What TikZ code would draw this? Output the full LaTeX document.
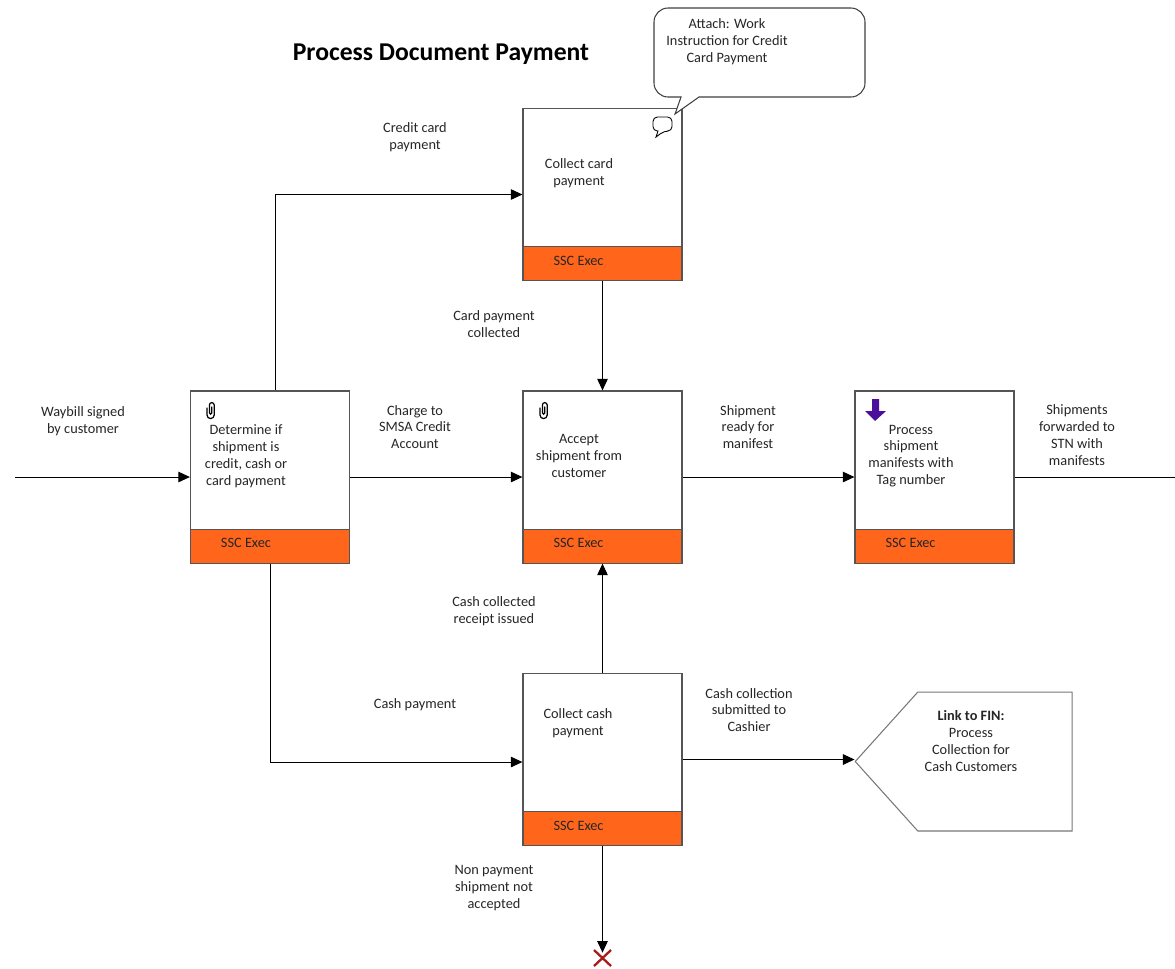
\documentclass[tikz,border=0pt]{standalone}
\usepackage{fontspec}
\setmainfont{Carlito}
\usepackage{xcolor}
\usetikzlibrary{arrows.meta,shapes.symbols}
\definecolor{execorange}{HTML}{FF661C}
\definecolor{linkgray}{HTML}{555555}
\definecolor{markpurple}{HTML}{4B0F9C}
\definecolor{stopred}{HTML}{A51C1C}
\tikzset{
    taskbox/.style={draw=linkgray,line width=0.7pt,minimum width=3.18cm,minimum height=3.44cm,inner sep=0pt},
    execband/.style={draw=linkgray,line width=0.6pt,fill=execorange,minimum width=3.18cm,minimum height=0.68cm,inner sep=0pt},
    lbl/.style={align=center,font=\fontsize{8.15}{9.6}\selectfont,text=black!85,inner sep=0pt,yshift=-0.02cm},
    flow/.style={line width=0.55pt,-{Triangle[length=6.6pt,width=6pt]}},
    clip mark/.pic={
        \draw[line width=0.7pt,line cap=round] (-3,-2) -- (-3,5) arc[start angle=180,end angle=360,x radius=3.6,y radius=-3.6] -- (4.2,-5) arc[start angle=0,end angle=180,x radius=2.4,y radius=-2.4] -- (-0.6,3) arc[start angle=180,end angle=360,x radius=1.2,y radius=-1.2] -- (1.8,-3);
    }
}
\begin{document}
\begin{tikzpicture}[x=0.02cm,y=-0.02cm]
    \useasboundingbox (0,0) rectangle (1175,968);

    \foreach \nm/\cx/\cy in {determine/270/477,accept/602.5/477,manifest/934.5/477,card/602.5/194.5,cash/602.5/759.5} {
        \node[taskbox] (\nm) at (\cx,\cy) {};
        \node[execband,anchor=south] (\nm band) at (\nm.south) {};
        \node[lbl] (\nm exec) at ([xshift=-0.48cm,yshift=0.08cm]\nm band.center) {SSC Exec};
    }

    \node[lbl,text=black] (title) at (441,53) {\fontsize{14.6}{17}\selectfont\bfseries Process Document Payment};

    \node[lbl] (determinetxt) at (246,455) {Determine if\\shipment is\\credit, cash or\\card payment};
    \node[lbl] (accepttxt) at (579,455) {Accept\\shipment from\\customer};
    \node[lbl] (manifesttxt) at (911,455) {Process\\shipment\\manifests with\\Tag number};
    \node[lbl] (cardtxt) at (579,172) {Collect card\\payment};
    \node[lbl] (cashtxt) at (578,722) {Collect cash\\payment};

    \node[draw=linkgray!80,line width=0.6pt,signal,signal to=west,signal pointer angle=96,minimum width=4.34cm,minimum height=2.78cm,inner sep=0pt] (finlink) at (995,761.5) {};
    \node[lbl] (finlinktxt) at (971,740) {\textbf{Link to FIN:}\\Process\\Collection for\\Cash Customers};

    \coordinate (inflow) at (15,477);
    \coordinate (outflow) at (1175,477);
    \node[inner sep=0pt,minimum size=0.2cm] (stop) at (602.5,958) {};

    \draw[flow] (inflow) -- (determine.west);
    \draw[flow] (determine.east) -- (accept.west);
    \draw[flow] (accept.east) -- (manifest.west);
    \draw[line width=0.55pt] (manifest.east) -- (outflow);
    \draw[flow] ([xshift=0.1cm]determine.north) |- (card.west);
    \draw[flow] (determine.south) |- ([yshift=-0.05cm]cash.west);
    \draw[flow] (card.south) -- (accept.north);
    \draw[flow] (cash.north) -- (accept.south);
    \draw[flow] (cash.east) -- (cash.east -| finlink.west);
    \draw[flow] (cash.south) -- (stop.north);

    \draw[stopred,line width=1.3pt] (594,950) -- (611,966) (611,950) -- (594,966);

    \node[lbl] at (83,420) (waybill) {Waybill signed\\by customer};
    \node[lbl] at (415,136) (cardpay) {Credit card\\payment};
    \node[lbl] at (494,323) (cardgot) {Card payment\\collected};
    \node[lbl] at (415,426) (charge) {Charge to\\SMSA Credit\\Account};
    \node[lbl] at (748,426) (ready) {Shipment\\ready for\\manifest};
    \node[lbl] at (1077,434) (forward) {Shipments\\forwarded to\\STN with\\manifests};
    \node[lbl] at (494,610) (cashgot) {Cash collected\\receipt issued};
    \node[lbl] at (415,704) (cashpay) {Cash payment};
    \node[lbl] at (749,709) (submit) {Cash collection\\submitted to\\Cashier};
    \node[lbl] at (494,887) (nonpay) {Non payment\\shipment not\\accepted};

    \draw[draw=black!75,line width=0.6pt,fill=white,rounded corners=8pt] (654,8) -- (865,8) -- (865,97) -- (720,97) [sharp corners] -- (699,97) -- (675,114) -- (681,97) -- (670,97) [rounded corners=8pt] -- (654,97) -- cycle;
    \node[lbl] (attach) at (727,41) {Attach: Work\\Instruction for Credit\\Card Payment};
    \draw[line width=0.5pt,rounded corners=2.5pt] (653,117) -- (672,117) -- (672,131) -- (664,131) [sharp corners] -- (656,137) -- (658,131) [rounded corners=2.5pt] -- (653,131) -- cycle;

    \foreach \px in {210,543} \pic at (\px,410) {clip mark};

    \fill[markpurple] (872,399) -- (879,399) -- (879,411) -- (886,411) -- (875,421) -- (865,411) -- (872,411) -- cycle;
\end{tikzpicture}
\end{document}
